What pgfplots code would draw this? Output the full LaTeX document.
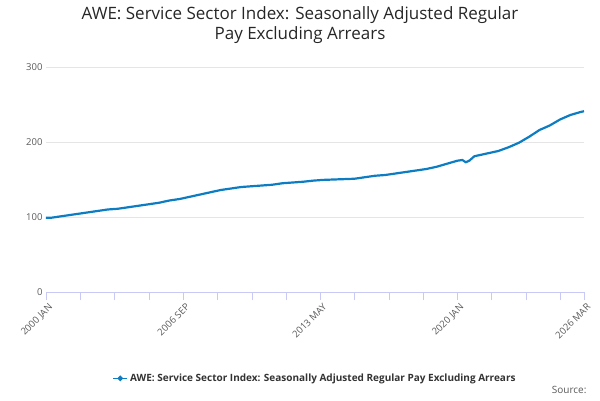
\documentclass[border=0pt]{standalone}
\usepackage{pgfplots}
\pgfplotsset{compat=1.18}
\usepackage{fontspec}
\setmainfont{Open Sans}
\definecolor{ons}{HTML}{0C7DC2}
\begin{document}
\begin{tikzpicture}[x=1pt,y=1pt]
\useasboundingbox (0,0) rectangle (600,400);
\node[align=center,font=\fontsize{17}{20}\selectfont,text=black!85] at (300,375) {AWE: Service Sector Index: Seasonally Adjusted Regular\\Pay Excluding Arrears};
\begin{axis}[at={(46pt,108pt)},anchor=origin,scale only axis,width=538pt,height=225pt,
 xmin=0,xmax=314,ymin=0,ymax=300,
 axis x line*=bottom, axis y line*=left,
 x axis line style={draw=gray!30!blue!25},
 y axis line style={draw=none},
 ytick={0,100,200,300}, ymajorgrids, grid style={gray!20},
 ytick style={draw=none},
 xtick={0,80,160,240,314}, xticklabels={2000 JAN,2006 SEP,2013 MAY,2020 JAN,2026 MAR},
 minor xtick={20,40,60,100,120,140,180,200,220,260,280,300},
 xtick style={draw=gray!30!blue!25}, xtick align=outside, major tick length=8pt, minor tick length=8pt,
 xticklabel style={rotate=45,anchor=north east,font=\fontsize{9.5}{11}\selectfont,text=black!65,xshift=3pt},
 ticklabel style={/pgf/number format/assume math mode=true},
 yticklabel style={font=\fontsize{9.5}{11}\selectfont,text=black!65},
 clip=false,
 legend style={at={(0.5,-0.345)},anchor=north,draw=none,font=\bfseries\fontsize{10}{12}\selectfont,text=black!80},
 legend image code/.code={\draw[ons,line width=1.5pt] (0,0)--(0.5cm,0); \fill[ons] (0.25cm,0) circle (1.5pt);}
]
\addplot[ons,line width=2.2pt] coordinates {
(0,99) (3,99) (6,100) (12,102) (18,104) (24,106) (30,108) (36,110) (42,111) (48,113) (54,115)
(60,117) (66,119) (72,122) (78,124) (84,127) (90,130) (96,133) (102,136) (108,138) (114,140)
(120,141) (126,142) (132,143) (138,145) (144,146) (150,147) (156,148.5) (162,149.5) (168,150)
(174,150.5) (180,151) (186,153) (192,155) (198,156) (204,158) (210,160) (216,162) (222,164)
(228,167) (234,171) (240,175) (243,176) (245,173) (247,175) (250,181) (256,184) (264,188)
(270,193) (276,199) (282,207) (288,216) (294,222) (300,230) (306,236) (312,240) (314,241)};
\legend{AWE: Service Sector Index: Seasonally Adjusted Regular Pay Excluding Arrears}
\end{axis}
\node[anchor=east,font=\fontsize{10}{12}\selectfont,text=black!65] at (590,10) {Source:};
\end{tikzpicture}
\end{document}
